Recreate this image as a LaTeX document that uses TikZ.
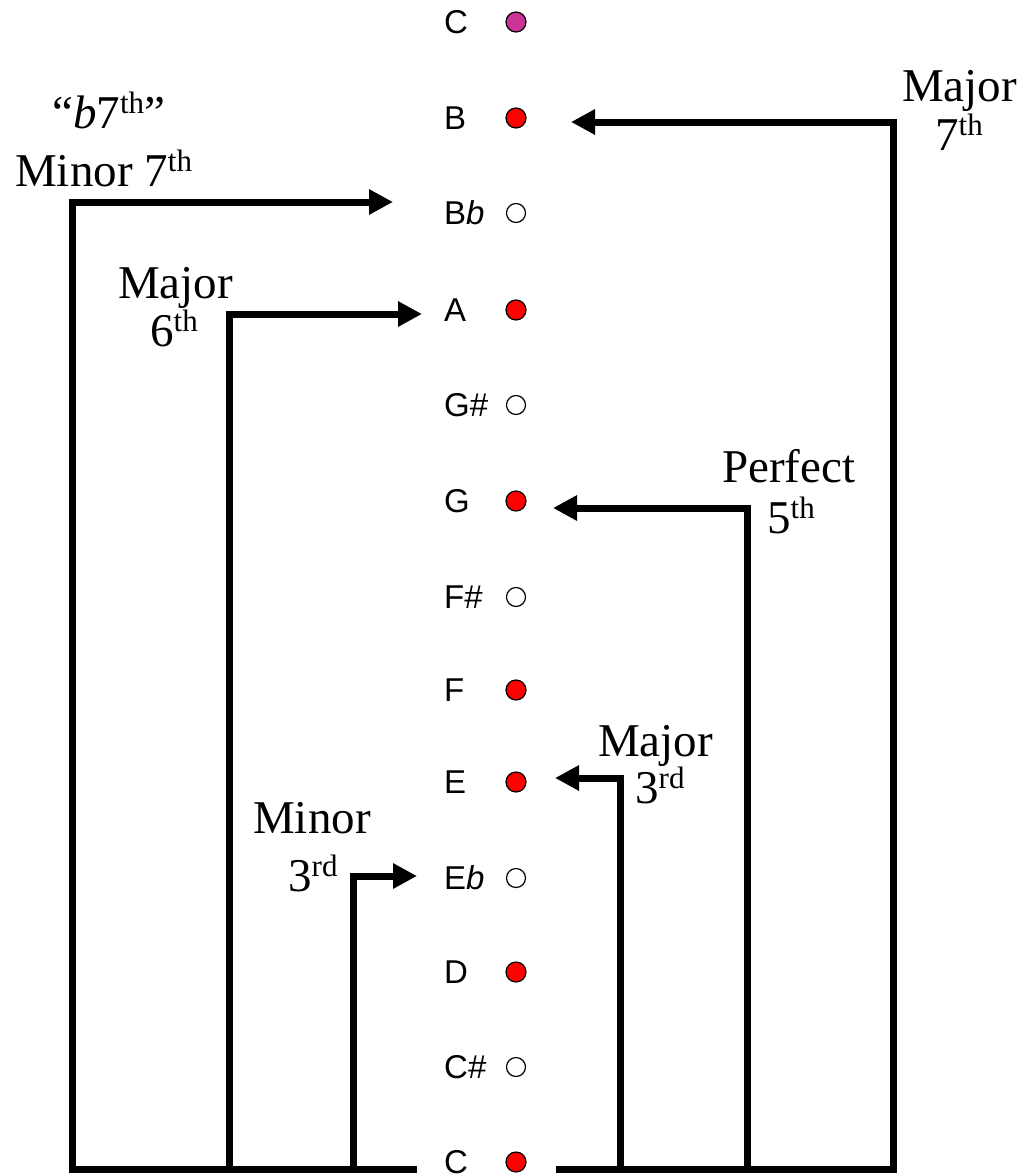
\documentclass[tikz,border=0pt]{standalone}
\usepackage{fontspec}
\setmainfont{Liberation Serif}
\newfontfamily\notefont{Liberation Sans}
\usetikzlibrary{arrows.meta}
\definecolor{topmag}{RGB}{204,51,153}
\newcommand\thsup[1]{\raisebox{15pt}{\fontsize{31}{31}\selectfont #1}}
\begin{document}
\begin{tikzpicture}[x=1pt,y=-1pt,
  note/.style={font=\notefont\fontsize{33}{33}\selectfont, anchor=base west, inner sep=0pt},
  dotfull/.style={circle, draw, line width=1.2pt, minimum size=20pt, inner sep=0pt, fill=red},
  dotempty/.style={circle, draw, line width=1.2pt, minimum size=19pt, inner sep=0pt, fill=white},
  conn/.style={line width=7pt, line join=miter, -{Triangle[length=24pt,width=24pt]}},
  lbl/.style={font=\fontsize{47}{47}\selectfont, anchor=base west, inner sep=0pt}]
\useasboundingbox (0,0) rectangle (1026,1175);
% notes
\node[note] (nC2) at (444,33.8) {C};
\node[dotfull, fill=topmag] (dC2) at (516,22) {};
\node[note] (nB) at (444,129.8) {B};
\node[dotfull] (dB) at (516,118) {};
\node[note] (nBb) at (444,224.8) {B\textit{b}};
\node[dotempty] (dBb) at (516,213) {};
\node[note] (nA) at (444,321.8) {A};
\node[dotfull] (dA) at (516,310) {};
\node[note] (nGs) at (444,416.8) {G\#};
\node[dotempty] (dGs) at (516,405) {};
\node[note] (nG) at (444,512.8) {G};
\node[dotfull] (dG) at (516,501) {};
\node[note] (nFs) at (444,608.8) {F\#};
\node[dotempty] (dFs) at (516,597) {};
\node[note] (nF) at (444,701.8) {F};
\node[dotfull] (dF) at (516,690) {};
\node[note] (nE) at (444,793.8) {E};
\node[dotfull] (dE) at (516,782) {};
\node[note] (nEb) at (444,889.8) {E\textit{b}};
\node[dotempty] (dEb) at (516,878) {};
\node[note] (nD) at (444,983.8) {D};
\node[dotfull] (dD) at (516,972) {};
\node[note] (nCs) at (444,1078.8) {C\#};
\node[dotempty] (dCs) at (516,1067) {};
\node[note] (nC) at (444,1173.8) {C};
\node[dotfull] (dC) at (516,1162) {};
% start points beside the bottom C
\coordinate (sL) at (417,1169);
\coordinate (sR) at (556,1169);
% arrow tips
\coordinate (tBb) at (393,202);
\coordinate (tA) at (422,314);
\coordinate (tEb) at (417,876);
\coordinate (tB) at (571,122);
\coordinate (tG) at (553,508);
\coordinate (tE) at (555,778);
% corners
\coordinate (kBb) at (72,202);
\coordinate (kA) at (229,314);
\coordinate (kEb) at (353,876);
\coordinate (kB) at (893,122);
\coordinate (kG) at (747,508);
\coordinate (kE) at (620,778);
% connectors
\draw[conn] (sL) -| (kBb) -- (tBb);
\draw[conn] (sL) -| (kA) -- (tA);
\draw[conn] (sL) -| (kEb) -- (tEb);
\draw[conn] (sR) -| (kB) -- (tB);
\draw[conn] (sR) -| (kG) -- (tG);
\draw[conn] (sR) -| (kE) -- (tE);
% labels
\node[lbl] (lm7a) at (52,128) {“\textit{b}7\thsup{th}”};
\node[lbl] (lm7b) at (15,186) {Minor 7\thsup{th}};
\node[lbl] (lM7a) at (902,101) {Major};
\node[lbl] (lM7b) at (935,150) {7\thsup{th}};
\node[lbl] (lM6a) at (118,298) {Major};
\node[lbl] (lM6b) at (150,346) {6\thsup{th}};
\node[lbl] (lP5a) at (722,482) {Perfect};
\node[lbl] (lP5b) at (767,533) {5\thsup{th}};
\node[lbl] (lM3a) at (598,756) {Major};
\node[lbl] (lM3b) at (635,803) {3\thsup{rd}};
\node[lbl] (lm3a) at (253,833) {Minor};
\node[lbl] (lm3b) at (288,891) {3\thsup{rd}};
\end{tikzpicture}
\end{document}
